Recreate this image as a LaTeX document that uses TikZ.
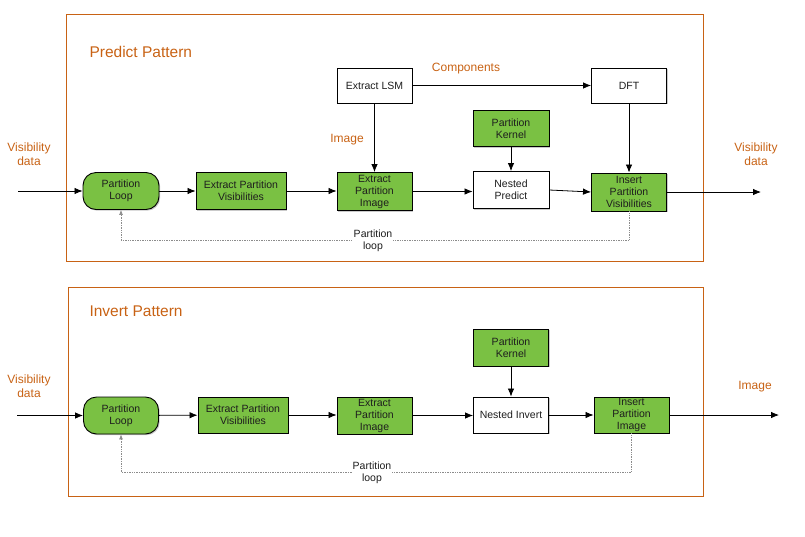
\documentclass[tikz,border=0pt]{standalone}
\usepackage{fontspec}
\setmainfont{Liberation Sans}
\usetikzlibrary{arrows.meta,shadows}
\definecolor{orng}{RGB}{200,98,20}
\definecolor{grn}{RGB}{122,193,67}
\definecolor{txt}{RGB}{30,30,30}
\tikzset{
  box/.style={draw=black, line width=0.9pt, inner sep=0pt, align=center, text=txt,
    font=\fontsize{10.5}{12}\selectfont,
    drop shadow={shadow xshift=1.2pt, shadow yshift=-1.2pt, opacity=0.35, fill=black!60}},
  gbox/.style={box, fill=grn},
  wbox/.style={box, fill=white},
  pill/.style={gbox, rounded corners=13pt},
  lbl/.style={text=orng, align=center, font=\fontsize{12}{14}\selectfont},
  ttl/.style={text=orng, anchor=west, font=\fontsize{15.5}{18}\selectfont},
  frame/.style={draw=orng, line width=0.9pt},
  arr/.style={-{Latex[length=8pt,width=6.5pt]}, line width=0.8pt, draw=black},
  lp/.style={densely dotted, draw=black!45, line width=0.7pt, -{Latex[length=5pt,width=4pt]}},
  lplbl/.style={fill=white, inner sep=1pt, align=center, text=txt, font=\fontsize{10.5}{12}\selectfont}
}
\begin{document}
\begin{tikzpicture}[x=1pt,y=-1pt]
\useasboundingbox (0,0) rectangle (805,536);
% frames
\draw[frame] (66,14) rectangle (703,261);
\draw[frame] (68,287) rectangle (703,496);
\node[ttl] (t1) at (86,52) {Predict Pattern};
\node[ttl] (t2) at (86,311) {Invert Pattern};

% ---------- top ----------
\node[pill, minimum width=76pt, minimum height=37pt] (pl1) at (121,191) {Partition\\Loop};
\node[gbox, minimum width=90pt, minimum height=37pt] (epv1) at (241,191) {Extract Partition\\Visibilities};
\node[gbox, minimum width=75pt, minimum height=38pt] (epi1) at (374.5,191.5) {Extract\\Partition\\Image};
\node[wbox, minimum width=76pt, minimum height=37pt] (np) at (511,190) {Nested\\Predict};
\node[gbox, minimum width=75pt, minimum height=38pt] (ipv) at (629,192) {Insert\\Partition\\Visibilities};
\node[wbox, minimum width=75pt, minimum height=35pt] (lsm) at (374.5,85.5) {Extract LSM};
\node[wbox, minimum width=75pt, minimum height=35pt] (dft) at (629,85.5) {DFT};
\node[gbox, minimum width=76pt, minimum height=36pt] (pk1) at (511,128.5) {Partition\\Kernel};

\node[lbl] (vin1) at (29,154) {Visibility\\data};
\node[lbl] (vout1) at (756,154) {Visibility\\data};
\node[lbl] (comp) at (466,69) {Components};
\node[lbl] (imgl) at (347,140) {Image};

\coordinate (in1) at (18,191);
\coordinate (out1) at (761,192);
\draw[arr] (in1) -- (pl1.west);
\draw[arr] (pl1) -- (epv1);
\draw[arr] (epv1) -- (epi1.west |- epv1);
\draw[arr] (epi1) -- (np.west |- epi1);
\draw[arr] (np.east) -- (ipv.west);
\draw[arr] (ipv.east) -- (out1);
\draw[arr] (lsm) -- (dft);
\draw[arr] (lsm) -- (epi1);
\draw[arr] (dft) -- (ipv);
\draw[arr] (pk1) -- (np);
\coordinate (c1a) at (629,240);
\coordinate (c1b) at (121,240);
\draw[lp] (ipv.south) -- (c1a) -- (c1b) -- (pl1.south);
\node[lplbl] (lpl1) at (373,241) {Partition\\loop};

% ---------- bottom ----------
\node[pill, minimum width=75pt, minimum height=37pt] (pl2) at (121,415.5) {Partition\\Loop};
\node[gbox, minimum width=90pt, minimum height=36pt] (epv2) at (243,415) {Extract Partition\\Visibilities};
\node[gbox, minimum width=75pt, minimum height=37pt] (epi2) at (374.5,415.5) {Extract\\Partition\\Image};
\node[wbox, minimum width=75pt, minimum height=36pt] (ni) at (511,415) {Nested Invert};
\node[gbox, minimum width=75pt, minimum height=36pt] (ipi) at (631.5,415) {Insert\\Partition\\Image};
\node[gbox, minimum width=75pt, minimum height=37pt] (pk2) at (511,347.5) {Partition\\Kernel};

\node[lbl] (vin2) at (29,386) {Visibility\\data};
\node[lbl] (iout) at (755,387) {Image};

\coordinate (in2) at (17,415.5);
\coordinate (out2) at (779,415);
\draw[arr] (in2) -- (pl2.west);
\draw[arr] (pl2) -- (epv2);
\draw[arr] (epv2) -- (epi2.west |- epv2);
\draw[arr] (epi2) -- (ni.west |- epi2);
\draw[arr] (ni) -- (ipi);
\draw[arr] (ipi.east) -- (out2);
\draw[arr] (pk2) -- (ni);
\coordinate (c2a) at (631.5,472);
\coordinate (c2b) at (121,472);
\draw[lp] (ipi.south) -- (c2a) -- (c2b) -- (pl2.south);
\node[lplbl] (lpl2) at (372,473) {Partition\\loop};
\end{tikzpicture}
\end{document}
